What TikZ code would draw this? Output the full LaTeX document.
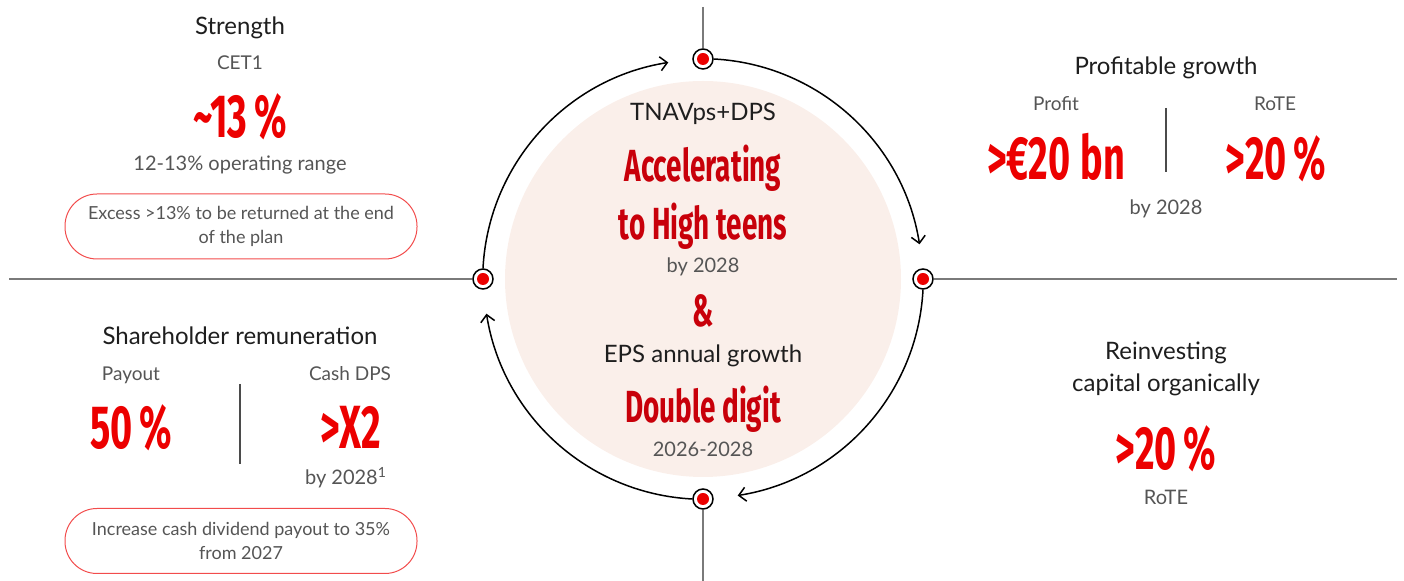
\documentclass[tikz,border=0pt]{standalone}
\usepackage{fontspec}
\setmainfont{Lato}
\newfontfamily\numfont[FakeStretch=0.62]{Fira Sans}
\usetikzlibrary{arrows.meta}

\definecolor{santred}{HTML}{EC0000}
\definecolor{deepred}{HTML}{C8000A}
\definecolor{blush}{HTML}{FAEFEA}
\definecolor{ink}{HTML}{1E1E1E}
\definecolor{mute}{HTML}{555555}
\definecolor{rulegray}{HTML}{7A7A7A}

\newcommand{\pct}{\kern3.5pt\%}

\tikzset{
  head/.style={anchor=base, text=ink, font=\fontsize{12}{14}\selectfont},
  sub/.style={anchor=base, text=mute, font=\fontsize{9.5}{11}\selectfont},
  note/.style={anchor=base, text=mute, font=\fontsize{10}{12}\selectfont},
  big/.style={anchor=base, text=santred, font=\numfont\bfseries\fontsize{30.5}{30.5}\selectfont},
  mid/.style={anchor=base, text=deepred, font=\numfont\bfseries\fontsize{22.5}{22.5}\selectfont},
  pill/.style={draw=santred!70, line width=0.5pt, rounded corners=16pt,
    minimum width=176pt, minimum height=32.5pt, align=center, text=mute,
    font=\fontsize{9}{12}\selectfont},
  hubmark/.style={circle, draw=black, line width=0.75pt, fill=white,
    minimum size=10pt, inner sep=0pt,
    path picture={\fill[santred] (path picture bounding box.center) circle (3pt);}},
  axis/.style={draw=rulegray, line width=0.8pt},
  divider/.style={draw=ink!80, line width=0.6pt},
  turn/.style={-{Straight Barb[length=3.5pt,width=7pt]}, line width=0.75pt},
}

\begin{document}
\begin{tikzpicture}[x=0.5pt, y=-0.5pt]
  \useasboundingbox (0,0) rectangle (1404,581);

  % 中心圆
  \node[circle, fill=blush, minimum size=198pt, inner sep=0pt] (hub) at (703,279) {};

  % 四个标记点
  \node[hubmark] (mtop) at (703,59) {};
  \node[hubmark] (mright) at (923,279) {};
  \node[hubmark] (mbottom) at (703,499) {};
  \node[hubmark] (mleft) at (483,279) {};

  % 坐标轴
  \coordinate (wend) at (9,279);
  \coordinate (eend) at (1397,279);
  \coordinate (nend) at (703,7);
  \coordinate (send) at (703,581);
  \draw[axis] (wend) -- (mleft);
  \draw[axis] (mright) -- (eend);
  \draw[axis] (nend) -- (mtop);
  \draw[axis] (mbottom) -- (send);

  % 循环箭头
  \draw[turn] (mtop.east) arc[start angle=-87, end angle=-9, radius=220];
  \draw[turn] (mright.south) arc[start angle=3, end angle=81, radius=220];
  \draw[turn] (mbottom.west) arc[start angle=93, end angle=171, radius=220];
  \draw[turn] (mleft.north) arc[start angle=183, end angle=261, radius=220];

  % 中心文字
  \node[head] (tnav) at (703,121) {TNAVps+DPS};
  \node[mid] (accel) at (703,182) {Accelerating};
  \node[mid] (teens) at (703,240) {to High teens};
  \node[note] (tnavyear) at (703,273) {by 2028};
  \node[mid] (amp) at (703,327) {\&};
  \node[head] (eps) at (703,363) {EPS annual growth};
  \node[mid] (double) at (703,423) {Double digit};
  \node[note] (epsyears) at (703,457) {2026-2028};

  % 左上: Strength
  \node[head] (strength) at (240,35) {Strength};
  \node[sub] (cet) at (240,70) {CET1};
  \node[big] (cetval) at (240,138) {\textasciitilde13\pct};
  \node[note] (cetrange) at (240,171) {12-13\% operating range};
  \node[pill] (excess) at (241,226.5) {Excess >13\% to be returned at the end\\of the plan};

  % 左下: Shareholder remuneration
  \node[head] (remun) at (240,345) {Shareholder remuneration};
  \node[sub] (payout) at (131,381) {Payout};
  \node[sub] (cashdps) at (350,381) {Cash DPS};
  \node[big] (payval) at (131,449) {50\pct};
  \node[big] (dpsval) at (351,449) {>X2};
  \node[note] (dpsyear) at (346,485) {by 2028\textsuperscript{1}};
  \coordinate (lsplittop) at (240,384);
  \coordinate (lsplitbot) at (240,464);
  \draw[divider] (lsplittop) -- (lsplitbot);
  \node[pill] (cashdiv) at (241,541) {Increase cash dividend payout to 35\%\\from 2027};

  % 右上: Profitable growth
  \node[head] (growth) at (1166,75) {Profitable growth};
  \node[sub] (profit) at (1056,111) {Profit};
  \node[sub] (rote) at (1275,111) {RoTE};
  \node[big] (profitval) at (1056,180) {>€20\,bn};
  \node[big] (roteval) at (1276,180) {>20\pct};
  \node[note] (growthyear) at (1166,215) {by 2028};
  \coordinate (rsplittop) at (1166,108);
  \coordinate (rsplitbot) at (1166,172);
  \draw[divider] (rsplittop) -- (rsplitbot);

  % 右下: Reinvesting
  \node[head] (reinv) at (1166,360) {Reinvesting};
  \node[head] (organic) at (1166,392) {capital organically};
  \node[big] (reinvval) at (1166,470) {>20\pct};
  \node[note] (reinvrote) at (1166,505) {RoTE};
\end{tikzpicture}
\end{document}
